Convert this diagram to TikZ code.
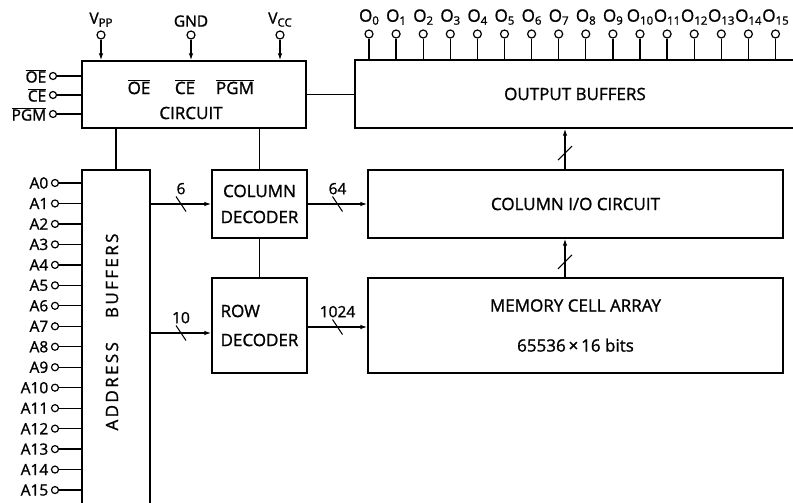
\documentclass[tikz,border=0pt]{standalone}
\usepackage{fontspec}
\setmainfont{Open Sans}[FakeBold=1.2]
\usepackage{tikz}
\usetikzlibrary{arrows.meta,positioning,calc}
\newcommand{\ovl}[1]{$\overline{\mbox{#1}}$}
\newcommand{\subs}[1]{\raisebox{-3pt}{\fontsize{11.5}{12}\selectfont #1}}

\begin{document}
\begin{tikzpicture}[x=1pt,y=-1pt,>={Latex[length=7pt,width=4.5pt]},line width=1.3pt, every node/.style={font=\fontsize{17}{19}\selectfont\addfontfeature{FakeBold=1.2}}]
\tikzstyle{box}=[draw,line width=1.3pt,inner sep=0pt,align=center]
\tikzstyle{pinc}=[draw,circle,inner sep=0pt,minimum size=8pt,line width=1.2pt]
\tikzstyle{small}=[font=\fontsize{15.5}{17}\selectfont\addfontfeature{FakeBold=1.2},inner sep=1pt]
\clip (0,0) rectangle (793,503);
\node[box,minimum width=224pt,minimum height=67pt] (circ) at (194,94.5) {};
\node (oebar) at (139,87) {\ovl{OE}};
\node (cebar) at (185,87) {\ovl{CE}};
\node (pgmbar) at (235,87) {\ovl{PGM}};
\node (circtxt) at (191,113) {CIRCUIT};
\node[box,minimum width=440pt,minimum height=68pt] (outb) at (575,94) {OUTPUT BUFFERS};
\node[box,minimum width=68pt,minimum height=350pt] (addr) at (116,345) {};
\node[rotate=90] (addrtxt) at (112,332) {\addfontfeature{LetterSpace=14}ADDRESS\hspace{24pt}BUFFERS};
\node[box,minimum width=95pt,minimum height=68pt] (colde) at (259.5,204) {COLUMN\\[7pt]DECODER};
\node[box,minimum width=95pt,minimum height=95pt,align=left] (rowde) at (259.5,325.5) {ROW\\[10pt]DECODER};
\node[box,minimum width=415pt,minimum height=68pt] (colio) at (575.5,204) {COLUMN I/O CIRCUIT};
\node[box,minimum width=415pt,minimum height=95pt] (mem) at (575.5,325.5) {MEMORY CELL ARRAY\\[21pt]65536\,×\,16 bits};
\foreach \nm/\xx/\lb in {vpp/101/V\subs{PP},gnd/191/GND,vcc/280/V\subs{CC}} {
  \node[pinc] (\nm) at (\xx,35) {};
  \node[small,above=2pt of \nm] (\nm-l) {\lb};
  \draw[->] (\nm) -- (\nm |- circ.north);
}
\foreach \nm/\yy/\lb in {oe/76/OE,ce/95/CE,pgm/114/PGM} {
  \node[pinc,minimum size=7pt] (\nm) at (53,\yy) {};
  \node[small,left=1pt of \nm] (\nm-l) {\ovl{\lb}};
  \draw (\nm) -- (\nm -| circ.west);
}
\foreach \i in {0,...,15} {
  \node[pinc] (o\i) at ({369+27.1*\i},34) {};
  \node[inner sep=0pt,above=4pt of o\i] (o\i-l) {O\subs{\i}};
  \draw (o\i) -- (o\i |- outb.north);
}
\foreach \i in {0,...,15} {
  \node[pinc,minimum size=7pt] (a\i) at (55,{183+20.47*\i}) {};
  \node[small,left=1pt of a\i] (a\i-l) {A\i};
  \draw (a\i) -- (a\i -| addr.west);
}
\draw (circ.east) -- (circ.east -| outb.west);
\draw (addr.north) -- (addr.north |- circ.south);
\draw (colde.north) -- (colde.north |- circ.south);
\draw (colde) -- (rowde);
\draw[->] (colde.west -| addr.east) -- node[small,midway,above=8pt] (n6) {6} coordinate[midway] (s6) (colde.west);
\draw[->] ([yshift=-7.5pt]rowde.west -| addr.east) -- node[small,midway,above=8pt] (n10) {10} coordinate[midway] (s10) ([yshift=-7.5pt]rowde.west);
\draw[->] (colde.east) -- node[small,midway,above=8pt] (n64) {64} coordinate[midway] (s64) (colde.east -| colio.west);
\draw[->] ([yshift=-1.5pt]rowde.east) -- node[small,midway,above=8pt] (n1024) {1024} coordinate[midway] (s1024) ([yshift=-1.5pt]rowde.east -| mem.west);
\draw[->] ([xshift=-10.5pt]mem.north) -- coordinate[pos=0.4] (smem) ([xshift=-10.5pt]colio.south);
\draw[->] ([xshift=-10.5pt]colio.north) -- coordinate[pos=0.4] (sio) ([xshift=-10.5pt]colio.north |- outb.south);
\foreach \s in {s6,s10,s64,s1024} \draw[line width=1.1pt] (\s) ++(-5,-7.5) -- ++(10,15);
\foreach \s in {smem,sio} \draw[line width=1.1pt] (\s) ++(-7,7) -- ++(14,-14);
\end{tikzpicture}
\end{document}
